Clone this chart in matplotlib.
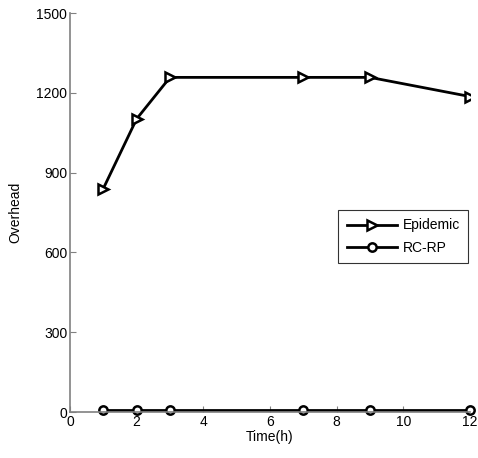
import matplotlib
matplotlib.use('Agg')
import matplotlib.pyplot as plt

plt.rcParams['font.family'] = ['Liberation Sans', 'DejaVu Sans']

hours = [1, 2, 3, 7, 9, 12]
epidemic = [840, 1102, 1258, 1258, 1258, 1186]
rcrp = [8, 8, 8, 8, 8, 8]

fig = plt.figure(figsize=(4.78, 4.58), dpi=100)
ax = fig.add_axes([0.1464, 0.1004, 0.8368, 0.8712])

ax.plot(hours, epidemic, color='black', lw=2, marker='>', ms=7,
        mfc='white', mec='black', mew=1.8, label='Epidemic')
ax.plot(hours, rcrp, color='black', lw=2, marker='o', ms=6,
        mfc='white', mec='black', mew=1.8, label='RC-RP', clip_on=False)

ax.set_xlim(0, 12)
ax.set_ylim(0, 1500)
ax.set_xticks(range(0, 13, 2))
ax.set_yticks(range(0, 1501, 300))

for s in ['top', 'right']:
    ax.spines[s].set_visible(False)
for s in ['left', 'bottom']:
    ax.spines[s].set_color('#808080')
    ax.spines[s].set_linewidth(1.2)
ax.tick_params(direction='in', color='#808080', labelsize=10, length=4, pad=2)

ax.set_xlabel('Time(h)', fontsize=10, labelpad=1)
ax.set_ylabel('Overhead', fontsize=10, labelpad=10)

leg = ax.legend(loc='upper right', bbox_to_anchor=(0.995, 0.506), fontsize=10,
                frameon=True, fancybox=False, edgecolor='black',
                handlelength=3.6, borderpad=0.6, labelspacing=0.6,
                handletextpad=0.4, borderaxespad=0)
leg.get_frame().set_linewidth(0.8)

fig.savefig('out.png', dpi=100)
